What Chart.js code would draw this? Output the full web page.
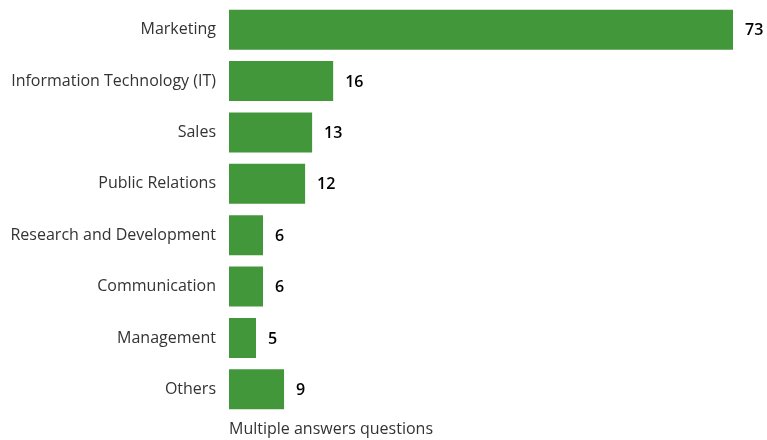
<!DOCTYPE html>
<html>
<head>
<meta charset="utf-8">
<script src="https://cdn.jsdelivr.net/npm/chart.js@4"></script>
<style>
  html, body { margin: 0; padding: 0; background: #fff; }
  #wrap { position: relative; width: 767px; height: 440px; }
</style>
</head>
<body>
<div id="wrap"><canvas id="barChart"></canvas></div>
<script>
const categories = [
    'Marketing',
    'Information Technology (IT)',
    'Sales',
    'Public Relations',
    'Research and Development',
    'Communication',
    'Management',
    'Others'
];
const counts = [73, 16, 13, 12, 6, 6, 5, 9];
const footNote = 'Multiple answers questions';

const barColor = '#43973b';
const fontFamily = '"Open Sans", "Noto Sans", sans-serif';

// value labels at the bar ends, plus the note under the bars
const valueLabels = {
    id: 'valueLabels',
    afterDatasetsDraw(chart) {
        const ctx = chart.ctx;
        const meta = chart.getDatasetMeta(0);
        ctx.save();
        ctx.fillStyle = '#000';
        ctx.font = '600 16px ' + fontFamily;
        ctx.textAlign = 'left';
        ctx.textBaseline = 'middle';
        meta.data.forEach((bar, i) => {
            ctx.fillText(String(counts[i]), bar.x + 12, bar.y + 1);
        });
        ctx.fillStyle = '#333';
        ctx.font = '16px ' + fontFamily;
        ctx.textBaseline = 'alphabetic';
        ctx.fillText(footNote, chart.chartArea.left, 434);
        ctx.restore();
    }
};

new Chart(document.getElementById('barChart').getContext('2d'), {
    type: 'bar',
    data: {
        labels: categories,
        datasets: [{
            data: counts,
            backgroundColor: barColor,
            borderWidth: 0,
            categoryPercentage: 1,
            barPercentage: 0.78
        }]
    },
    options: {
        indexAxis: 'y',
        responsive: true,
        maintainAspectRatio: false,
        animation: false,
        layout: { padding: { top: 4, right: 34, bottom: 25, left: 0 } },
        plugins: {
            legend: { display: false },
            tooltip: { enabled: false }
        },
        scales: {
            x: {
                display: false,
                min: 1.15,
                max: 73
            },
            y: {
                afterFit: s => {
                    s.width = 229;
                    s.paddingTop = 0;
                    s.paddingBottom = 0;
                },
                grid: { display: false, drawTicks: false },
                border: { display: false },
                ticks: {
                    color: '#333',
                    padding: 13,
                    font: { family: fontFamily, size: 16 }
                }
            }
        }
    },
    plugins: [valueLabels]
});
</script>
</body>
</html>
